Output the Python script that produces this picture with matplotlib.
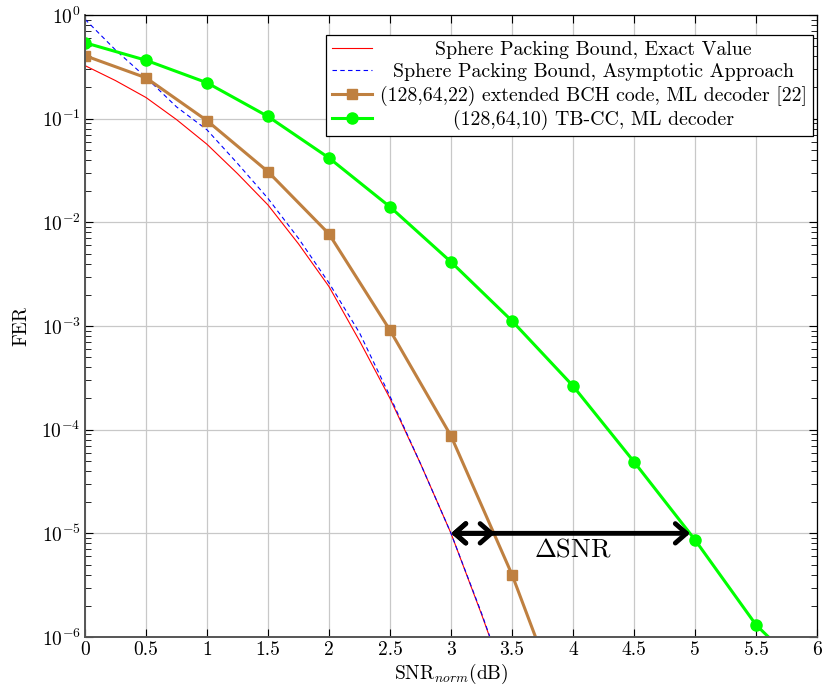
import numpy as np
import matplotlib
matplotlib.use('Agg')
import matplotlib.pyplot as plt
from matplotlib.transforms import IdentityTransform

plt.rcParams['font.family'] = 'serif'
plt.rcParams['font.serif'] = ['cmr10', 'DejaVu Serif']
plt.rcParams['mathtext.fontset'] = 'cm'
plt.rcParams['axes.formatter.use_mathtext'] = True

# sphere packing bound, exact value
snr_exact = [0, 0.25, 0.5, 0.75, 1.0, 1.25, 1.5, 1.75, 2.0, 2.25, 2.5, 2.75, 3.0, 3.25, 3.5]
fer_exact = [0.325, 0.233, 0.16, 0.098, 0.0566, 0.0295, 0.0147, 0.0062, 0.0024,
             7.2e-4, 2.0e-4, 4.7e-5, 1.0e-5, 1.66e-6, 2.5e-7]
# sphere packing bound, asymptotic approach
snr_asym = [0, 0.25, 0.5, 0.75, 1.0, 1.25, 1.5, 1.75, 2.0, 2.25, 2.5, 2.75, 3.0, 3.25, 3.5]
fer_asym = [0.91, 0.46, 0.25, 0.13, 0.078, 0.037, 0.017, 0.0070, 0.0026,
            8.6e-4, 2.1e-4, 4.7e-5, 1.0e-5, 1.7e-6, 2.5e-7]
# (128,64,22) eBCH, ML
snr_bch = [0, 0.5, 1.0, 1.5, 2.0, 2.5, 3.0, 3.5, 4.0]
fer_bch = [0.405, 0.248, 0.0957, 0.0308, 0.00773, 9.1e-4, 8.7e-5, 4.0e-6, 1.1e-7]
# (128,64,10) TB-CC, ML
snr_cc = [0, 0.5, 1.0, 1.5, 2.0, 2.5, 3.0, 3.5, 4.0, 4.5, 5.0, 5.5, 6.0]
fer_cc = [0.54, 0.366, 0.222, 0.105, 0.0418, 0.0141, 0.00415, 0.00112,
          2.64e-4, 4.9e-5, 8.65e-6, 1.31e-6, 3.5e-7]

labels = ['Sphere Packing Bound, Exact Value',
          'Sphere Packing Bound, Asymptotic Approach',
          '(128,64,22) extended BCH code, ML decoder [22]',
          '(128,64,10) TB-CC, ML decoder']

fig = plt.figure(figsize=(8.22, 6.91), dpi=100)
ax = fig.add_axes([85/822, 54/691, 732/822, 622/691])

ax.semilogy(snr_exact, fer_exact, color='#ff0000', lw=0.8, label=labels[0])
ax.semilogy(snr_asym, fer_asym, color='#0000ff', lw=0.8, ls=(0, (4, 3)), label=labels[1])
ax.semilogy(snr_bch, fer_bch, color='#bf8040', lw=2.2, marker='s', ms=7.5, label=labels[2])
ax.semilogy(snr_cc, fer_cc, color='#00ff00', lw=2.2, marker='o', ms=8, label=labels[3])

# delta SNR arrows at FER = 1e-5
for xend in [3.36, 4.96]:
    ax.annotate('', xy=(xend, 1e-5), xytext=(3.0, 1e-5),
                arrowprops=dict(arrowstyle='<->,head_length=0.4,head_width=0.35',
                                lw=3.5, color='black', mutation_scale=20,
                                shrinkA=0, shrinkB=0))
ax.text(4.0, 6.9e-6, r'$\Delta$SNR', fontsize=19, ha='center', va='center')

ax.set_xlim(0, 6)
ax.set_ylim(1e-6, 1)
ax.set_xticks([0, 0.5, 1, 1.5, 2, 2.5, 3, 3.5, 4, 4.5, 5, 5.5, 6])
ax.set_xticklabels(['0', '0.5', '1', '1.5', '2', '2.5', '3', '3.5', '4', '4.5', '5', '5.5', '6'])
ax.grid(True, which='major', color='#c8c8c8', lw=0.9)
ax.tick_params(which='both', direction='in', top=True, right=True, labelsize=14)
ax.tick_params(which='major', length=5.5, pad=3)
ax.tick_params(which='minor', length=4)
for s in ['left', 'bottom']:
    ax.spines[s].set_color('#555555')
    ax.spines[s].set_linewidth(1.4)
for s in ['top', 'right']:
    ax.spines[s].set_linewidth(0.9)

ax.set_xlabel(r'SNR$_{norm}$(dB)', fontsize=14, labelpad=2)
ax.set_ylabel('FER', fontsize=14, labelpad=8)

leg = ax.legend(loc='upper right', bbox_to_anchor=(0.9945, 0.968), borderaxespad=0,
                fancybox=False, edgecolor='black', framealpha=1, fontsize=14.3,
                handlelength=2.0, handletextpad=0.4, labelspacing=0.22, borderpad=0.3)
leg.get_frame().set_linewidth(0.9)

# centre each legend label inside the text column
fig.canvas.draw()
r = fig.canvas.get_renderer()
boxes = [t.get_window_extent(r) for t in leg.get_texts()]
x0 = min(b.x0 for b in boxes)
x1 = max(b.x1 for b in boxes)
for t in leg.get_texts():
    px, py = t.get_transform().transform(t.get_position())
    fig.text((x0 + x1) / 2, py, t.get_text(), transform=IdentityTransform(),
             ha='center', va=t.get_va(), fontsize=14.3, zorder=10)
    t.set_alpha(0)

fig.savefig('out.png', dpi=100)
